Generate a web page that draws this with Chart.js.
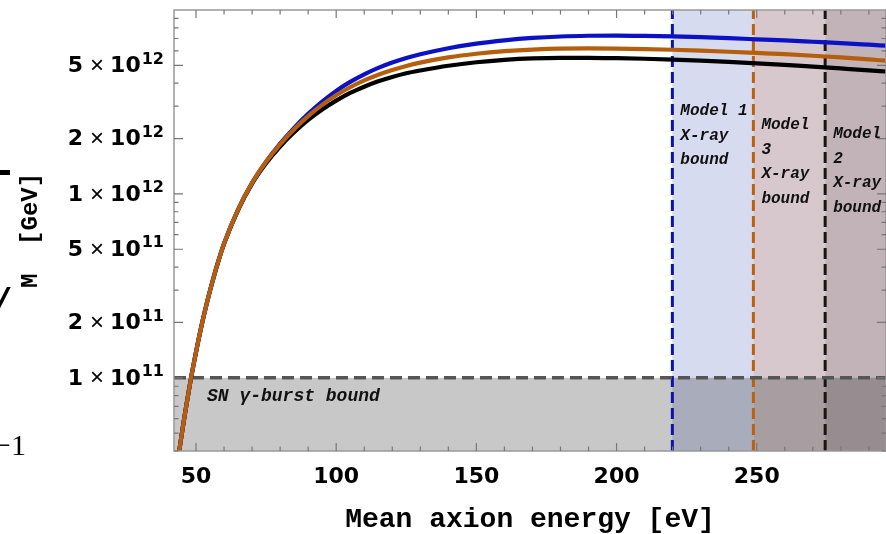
<!DOCTYPE html>
<html>
<head>
<meta charset="utf-8">
<script src="https://cdn.jsdelivr.net/npm/chart.js@4.4.1/dist/chart.umd.min.js"></script>
<style>
  html, body { margin: 0; padding: 0; background: #fff; }
  #box { position: relative; width: 886px; height: 534px; }
  .stray { position: absolute; color: #000; }
</style>
</head>
<body>
<div id="box">
  <canvas id="grafico"></canvas>
  <div class="stray" style="left:0;top:170px;width:10px;height:5px;background:#000"></div>
  <div class="stray" style="left:-4px;top:280px;font:bold italic 34px 'DejaVu Sans'">/</div>
  <div class="stray" style="left:-6px;top:428px;font:30px 'Liberation Serif'">−1</div>
</div>
<script>
// energie medie (eV) e limiti M (GeV)
const energy = [44, 46, 48, 50, 52, 54, 56, 58, 60, 65, 70, 75, 80, 85, 90, 95, 100, 105, 110, 115,
  120, 125, 130, 140, 150, 160, 170, 180, 190, 200, 210, 220, 230, 240, 250, 260, 270, 280, 290, 296];
const model1 = [4.0e10, 6.31e10, 9.55e10, 1.38e11, 1.93e11, 2.6e11, 3.39e11, 4.32e11, 5.37e11, 8.22e11,
  1.148e12, 1.496e12, 1.875e12, 2.286e12, 2.723e12, 3.177e12, 3.631e12, 4.064e12, 4.467e12, 4.842e12,
  5.176e12, 5.483e12, 5.741e12, 6.194e12, 6.561e12, 6.839e12, 7.047e12, 7.178e12, 7.244e12, 7.26e12,
  7.235e12, 7.19e12, 7.12e12, 7.03e12, 6.93e12, 6.83e12, 6.72e12, 6.61e12, 6.48e12, 6.4e12];
const model2 = [4.0e10, 6.31e10, 9.55e10, 1.38e11, 1.93e11, 2.6e11, 3.39e11, 4.32e11, 5.35e11, 8.17e11,
  1.138e12, 1.469e12, 1.811e12, 2.163e12, 2.523e12, 2.877e12, 3.214e12, 3.54e12, 3.828e12, 4.093e12,
  4.325e12, 4.529e12, 4.688e12, 4.977e12, 5.2e12, 5.358e12, 5.458e12, 5.495e12, 5.495e12, 5.47e12,
  5.43e12, 5.37e12, 5.3e12, 5.22e12, 5.13e12, 5.03e12, 4.92e12, 4.81e12, 4.7e12, 4.63e12];
const model3 = [4.0e10, 6.31e10, 9.55e10, 1.38e11, 1.93e11, 2.6e11, 3.39e11, 4.32e11, 5.37e11, 8.22e11,
  1.148e12, 1.496e12, 1.862e12, 2.249e12, 2.649e12, 3.048e12, 3.436e12, 3.802e12, 4.14e12, 4.446e12,
  4.721e12, 4.966e12, 5.176e12, 5.521e12, 5.781e12, 5.97e12, 6.095e12, 6.166e12, 6.18e12, 6.166e12,
  6.13e12, 6.08e12, 6.01e12, 5.93e12, 5.84e12, 5.75e12, 5.64e12, 5.52e12, 5.39e12, 5.3e12];

const xTicks = [50, 100, 150, 200, 250];
const yTickMantissa = [1, 2, 5, 1, 2, 5];
const yTickExponent = [11, 11, 11, 12, 12, 12];

// limiti X-ray (eV) nell'ordine Model 1, Model 3, Model 2
const boundEnergies = [219.9, 248.8, 274.4];
const boundNames = [["Model 1", "X-ray", "bound"], ["Model", "3", "X-ray", "bound"], ["Model", "2", "X-ray", "bound"]];
const snBound = 1e11;
const snLabel = "SN γ-burst bound";

const xMin = 42.15, xMax = 296.1, yMin = 4e10, yMax = 1e13;

const bandColors = ["#d7dbef", "#d6c8cc", "#c1b3b7"];
const boundColors = ["#0a14aa", "#b8620e", "#1c1412"];
const mono = "'Liberation Mono', 'Courier New', monospace";
const sans = "'DejaVu Sans', sans-serif";

function punti(ys) { return energy.map((e, i) => ({ x: e, y: ys[i] })); }

const curve = (label, ys, color, order) => ({
  label, data: punti(ys), borderColor: color, borderWidth: 4.2, pointRadius: 0,
  cubicInterpolationMode: "monotone", order
});

const datasets = [
  curve("Model 3", model3, "#b55f0c", 0),
  curve("Model 1", model1, "#0b12c6", 1),
  curve("Model 2", model2, "#000000", 2),
  {
    label: "SN", data: [{ x: xMin, y: snBound }, { x: xMax, y: snBound }],
    borderColor: "#555", borderWidth: 3.5, borderDash: [12, 6], pointRadius: 0, order: 3
  }
];
boundEnergies.forEach((e, i) => {
  datasets.push({
    label: "bound " + i, data: [{ x: e, y: yMin }, { x: e, y: yMax }],
    borderColor: boundColors[i], borderWidth: 3, borderDash: [11, 5], pointRadius: 0, order: 4
  });
});

const cornice = {
  id: "cornice",
  beforeDatasetsDraw(chart) {
    const { ctx, chartArea: a, scales: { x, y } } = chart;
    ctx.save();
    const edges = boundEnergies.map(e => x.getPixelForValue(e)).concat([a.right]);
    bandColors.forEach((c, i) => {
      ctx.fillStyle = c;
      ctx.fillRect(edges[i], a.top, edges[i + 1] - edges[i], a.bottom - a.top);
    });
    ctx.globalCompositeOperation = "multiply";
    const ys = y.getPixelForValue(snBound);
    ctx.fillStyle = "#c8c8c8";
    ctx.fillRect(a.left, ys, a.right - a.left, a.bottom - ys);
    ctx.restore();
  },
  afterDatasetsDraw(chart) {
    const { ctx, chartArea: a, scales: { x, y } } = chart;
    ctx.save();
    ctx.fillStyle = "#111";
    ctx.textBaseline = "middle";
    ctx.font = "bold italic 18px " + mono;
    ctx.fillText(snLabel, a.left + 33, y.getPixelForValue(snBound) + 19);
    ctx.font = "bold italic 16px " + mono;
    const firstRow = [111, 125, 134];
    boundNames.forEach((righe, i) => {
      const px = x.getPixelForValue(boundEnergies[i]) + 8;
      righe.forEach((t, j) => ctx.fillText(t, px, firstRow[i] + j * 24.7));
    });
    ctx.restore();
  },
  afterDraw(chart) {
    const { ctx, chartArea: a, scales: { x, y } } = chart;
    ctx.save();
    ctx.strokeStyle = "#999";
    ctx.lineWidth = 1.5;
    ctx.strokeRect(a.left, a.top, a.right - a.left, a.bottom - a.top);
    // tacche interne
    ctx.strokeStyle = "#777";
    ctx.lineWidth = 1.2;
    ctx.beginPath();
    for (let v = 50; v <= 290; v += 10) {
      const px = x.getPixelForValue(v);
      const len = xTicks.includes(v) ? 8 : 4.5;
      ctx.moveTo(px, a.bottom); ctx.lineTo(px, a.bottom - len);
      ctx.moveTo(px, a.top); ctx.lineTo(px, a.top + len);
    }
    for (let e = 10; e <= 12; e++) {
      for (let m = 1; m <= 9; m++) {
        const v = m * Math.pow(10, e);
        if (v < yMin || v > yMax) continue;
        const py = y.getPixelForValue(v);
        const major = yTickExponent.some((ex, k) => ex === e && yTickMantissa[k] === m);
        const len = major ? 9 : 4.5;
        ctx.moveTo(a.left, py); ctx.lineTo(a.left + len, py);
        ctx.moveTo(a.right, py); ctx.lineTo(a.right - len, py);
      }
    }
    ctx.stroke();
    // etichette asse y con esponente
    ctx.fillStyle = "#000";
    ctx.textBaseline = "middle";
    yTickMantissa.forEach((m, i) => {
      const py = y.getPixelForValue(m * Math.pow(10, yTickExponent[i]));
      // [testo, font, spostamento verticale, spazio dopo]
      const parti = [
        [String(m), "bold 22px " + sans, 1, 7],
        ["×", "24px 'Liberation Sans'", 1, 6],
        ["10", "bold 22px " + sans, 1, 1],
        [String(yTickExponent[i]), "bold 16px " + sans, -6, 0]
      ];
      let tot = 0;
      parti.forEach(([t, f, dy, gap]) => { ctx.font = f; tot += ctx.measureText(t).width + gap; });
      let xr = a.left - 10 - tot;
      parti.forEach(([t, f, dy, gap]) => {
        ctx.font = f;
        ctx.fillText(t, xr, py + dy);
        xr += ctx.measureText(t).width + gap;
      });
    });
    ctx.restore();
  }
};

const ctx = document.getElementById("grafico").getContext("2d");
new Chart(ctx, {
  type: "line",
  data: { datasets },
  options: {
    responsive: true,
    maintainAspectRatio: false,
    animation: false,
    layout: { padding: { top: 10, right: 0, left: 0, bottom: 0 } },
    plugins: { legend: { display: false }, tooltip: { enabled: false } },
    scales: {
      x: {
        type: "linear", min: xMin, max: xMax,
        grid: { display: false }, border: { display: false },
        afterBuildTicks: s => { s.ticks = xTicks.map(v => ({ value: v })); },
        afterFit: s => { s.height = 83; },
        ticks: { color: "#000", padding: 5, maxRotation: 0, font: { family: "DejaVu Sans", weight: "bold", size: 22 } },
        title: {
          display: true, text: "Mean axion energy [eV]", color: "#000",
          padding: { top: 0, bottom: 0 },
          font: { family: "Liberation Mono", weight: "bold", size: 28, lineHeight: 1 }
        }
      },
      y: {
        type: "logarithmic", min: yMin, max: yMax,
        grid: { display: false }, border: { display: false },
        ticks: { display: false },
        afterFit: s => { s.width = 174; },
        title: {
          display: true, text: "M  [GeV]", color: "#000",
          padding: { top: 19, bottom: 0 },
          font: { family: "Liberation Mono", weight: "bold", size: 24, lineHeight: 1 }
        }
      }
    }
  },
  plugins: [cornice]
});
</script>
</body>
</html>
